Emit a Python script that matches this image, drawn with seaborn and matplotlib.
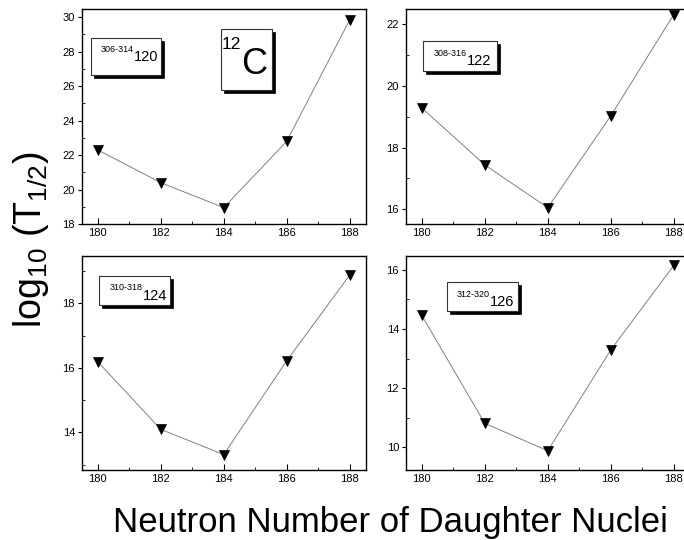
import matplotlib
matplotlib.use("Agg")
import matplotlib.pyplot as plt
import matplotlib.transforms as mtransforms
from matplotlib.patches import Rectangle
from matplotlib.ticker import MultipleLocator
import numpy as np
import pandas as pd
import seaborn as sns

# Neutron number of the daughter nucleus
neutrons = [180, 182, 184, 186, 188]

# log10 half-lives for 12C emission from Z = 120, 122, 124, 126 parents
logt_120 = [22.3, 20.4, 18.95, 22.8, 29.85]
logt_122 = [19.29, 17.44, 16.05, 19.03, 22.32]
logt_124 = [16.19, 14.09, 13.31, 16.22, 18.88]
logt_126 = [14.46, 10.81, 9.88, 13.29, 16.15]

series = [logt_120, logt_122, logt_124, logt_126]
mass_ranges = ["306-314", "308-316", "310-318", "312-320"]
charges = ["120", "122", "124", "126"]

sns.set_style("ticks")
plt.rcParams["font.family"] = ["Liberation Sans", "DejaVu Sans"]
plt.rcParams["mathtext.fontset"] = "custom"
plt.rcParams["mathtext.rm"] = "Liberation Sans"
plt.rcParams["mathtext.it"] = "Liberation Sans:italic"
for key in ["text.color", "axes.labelcolor", "xtick.color", "ytick.color",
            "axes.edgecolor"]:
    plt.rcParams[key] = "black"

W, H = 684, 540
fig = plt.figure(figsize=(W / 100, H / 100), dpi=100)

def frac_rect(x0, y0, x1, y1):
    """Pixel box (top-left origin) -> figure-fraction rect."""
    return [x0 / W, 1 - y1 / H, (x1 - x0) / W, (y1 - y0) / H]

panel_rects = [
    frac_rect(82, 9.3, 365.5, 224),
    frac_rect(406, 9.3, 689.5, 224),
    frac_rect(82, 256, 365.5, 470),
    frac_rect(406, 256, 689.5, 470),
]
ylims = [(18.0, 30.46), (15.52, 22.49), (12.83, 19.47), (9.23, 16.47)]

# label boxes: (x0, y0, x1, y1) in axes fraction, junction x, sup y, main y
boxes = [
    (0.032, 0.694, 0.279, 0.866, 0.183, 0.815, 0.776),
    (0.060, 0.713, 0.321, 0.852, 0.215, 0.792, 0.761),
    (0.060, 0.771, 0.310, 0.907, 0.215, 0.852, 0.814),
    (0.145, 0.743, 0.395, 0.879, 0.296, 0.821, 0.786),
]


def shadow_box(ax, x0, y0, x1, y1):
    shift = mtransforms.offset_copy(ax.transAxes, fig=fig, x=2.4, y=-2.4, units="points")
    ax.add_patch(Rectangle((x0, y0), x1 - x0, y1 - y0, transform=shift,
                           facecolor="black", edgecolor="black", lw=0.5,
                           zorder=5, clip_on=False))
    ax.add_patch(Rectangle((x0, y0), x1 - x0, y1 - y0, transform=ax.transAxes,
                           facecolor="white", edgecolor="#333333", lw=0.8,
                           zorder=6, clip_on=False))


axes = []
for i, rect in enumerate(panel_rects):
    ax = fig.add_axes(rect)
    axes.append(ax)
    df = pd.DataFrame({"N": neutrons, "logT": series[i]})
    sns.lineplot(data=df, x="N", y="logT", ax=ax, color="0.5", lw=0.7,
                 marker="v", markersize=6.5, markerfacecolor="black",
                 markeredgecolor="black", markeredgewidth=0.5)
    ax.set_xlim(179.5, 188.5)
    ax.set_ylim(*ylims[i])
    ax.xaxis.set_major_locator(MultipleLocator(2))
    ax.xaxis.set_minor_locator(MultipleLocator(1))
    ax.yaxis.set_major_locator(MultipleLocator(2))
    ax.yaxis.set_minor_locator(MultipleLocator(1))
    ax.set_xlabel("")
    ax.set_ylabel("")
    for s in ax.spines.values():
        s.set_linewidth(1.0)
        s.set_color("black")
    ax.tick_params(axis="x", which="major", direction="in", length=4, width=0.8,
                   pad=3, labelsize=8, colors="black")
    ax.tick_params(axis="x", which="minor", direction="in", length=2.5, width=0.6,
                   colors="black")
    ax.tick_params(axis="y", which="major", direction="out", length=3, width=0.8,
                   pad=2, labelsize=8, colors="black")
    ax.tick_params(axis="y", which="minor", direction="in", length=2.5, width=0.6,
                   colors="black")

    x0, y0, x1, y1, xj, ys, ym = boxes[i]
    shadow_box(ax, x0, y0, x1, y1)
    ax.text(xj, ys, mass_ranges[i], transform=ax.transAxes, ha="right",
            va="center", fontsize=6.5, zorder=7)
    ax.text(xj, ym, charges[i], transform=ax.transAxes, ha="left",
            va="center", fontsize=10.5, zorder=7)

# emitted cluster label
ax = axes[0]
shadow_box(ax, 0.490, 0.624, 0.670, 0.908)
ax.text(0.560, 0.835, "12", transform=ax.transAxes, ha="right", va="center",
        fontsize=12.5, zorder=7)
ax.text(0.560, 0.745, "C", transform=ax.transAxes, ha="left", va="center",
        fontsize=26, zorder=7)

fig.text(31 / W, 1 - 240 / H, r"log$_{\mathregular{10}}$ (T$_{\mathregular{1/2}}$)",
         rotation=90, ha="center", va="center", fontsize=27)
fig.text(390 / W, 1 - 532 / H, "Neutron Number of Daughter Nuclei",
         ha="center", va="baseline", fontsize=25)

fig.savefig("out.png", dpi=100)
